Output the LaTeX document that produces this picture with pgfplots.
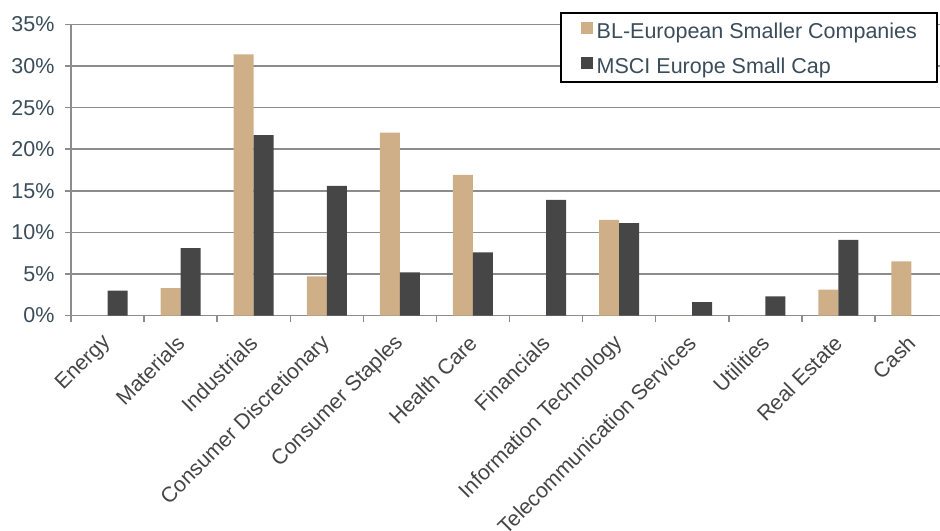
\documentclass[border=0pt]{standalone}
\usepackage{fontspec}
\setmainfont{Liberation Sans}
\usepackage{pgfplots}
\pgfplotsset{compat=1.18}

\definecolor{tan}{HTML}{CFAF87}
\definecolor{darkbar}{HTML}{464646}
\definecolor{gridgray}{HTML}{8C8C8C}
\definecolor{slate}{HTML}{3B4D5A}
\definecolor{labgray}{HTML}{454545}

\pgfplotsset{
  sq legend/.style={legend image code/.code={\fill[##1,draw=none] (0bp,-3.5bp) rectangle (12bp,8.5bp);}}
}

\begin{document}
\begin{tikzpicture}
\begin{axis}[
  at={(0,0)}, anchor=south west,
  scale only axis,
  width=877bp, height=291bp,
  ybar=0pt, bar width=20bp,
  xmin=-0.5, xmax=11.5,
  ymin=0, ymax=35,
  axis x line*=bottom, axis y line*=left,
  axis line style={draw=gridgray, line width=1.5bp, -},
  ymajorgrids,
  grid style={draw=gridgray, line width=1.5bp},
  tick align=outside,
  tick style={draw=gridgray, line width=1.5bp},
  major tick length=6bp, minor tick length=6bp,
  major x tick style={draw=none},
  xtick={0,...,11},
  minor xtick={-0.5,0.5,...,11.5},
  xticklabels={Energy,Materials,Industrials,Consumer Discretionary,Consumer Staples,Health Care,Financials,Information Technology,Telecommunication Services,Utilities,Real Estate,Cash},
  xticklabel style={xshift=0bp, yshift=-18bp, rotate=45, anchor=east, inner sep=0pt,
    font=\fontsize{21.3bp}{26bp}\selectfont, text=labgray},
  ytick={0,5,...,35},
  yticklabel={\pgfmathprintnumber{\tick}\%},
  yticklabel style={font=\fontsize{21.5bp}{26bp}\selectfont, text=slate, xshift=-7bp},
  /pgf/number format/assume math mode=true,
  legend style={at={(0.9883,1.042)}, anchor=north east,
    draw=black, line width=1.5bp, fill=white,
    inner xsep=20bp, inner ysep=7bp,
    font=\fontsize{21.5bp}{26bp}\selectfont, text=slate,
    nodes={inner sep=0pt, text height=18bp, text depth=2bp},
    row sep=15bp,
    /tikz/every odd column/.style={column sep=3.5bp}},
  legend cell align=left,
]
\addplot[fill=tan, draw=none, sq legend] coordinates {
(0,0) (1,3.3) (2,31.4) (3,4.7) (4,22.0) (5,16.9)
(6,0) (7,11.5) (8,0) (9,0) (10,3.1) (11,6.5)
};
\addlegendentry{BL-European Smaller Companies}
\addplot[fill=darkbar, draw=none, sq legend] coordinates {
(0,3.0) (1,8.1) (2,21.7) (3,15.6) (4,5.2) (5,7.6)
(6,13.9) (7,11.1) (8,1.6) (9,2.3) (10,9.1) (11,0)
};
\addlegendentry{MSCI Europe Small Cap}
\end{axis}
\pgfresetboundingbox
\useasboundingbox (-71bp,-215.5bp) rectangle (869bp,315.5bp);
\end{tikzpicture}
\end{document}
